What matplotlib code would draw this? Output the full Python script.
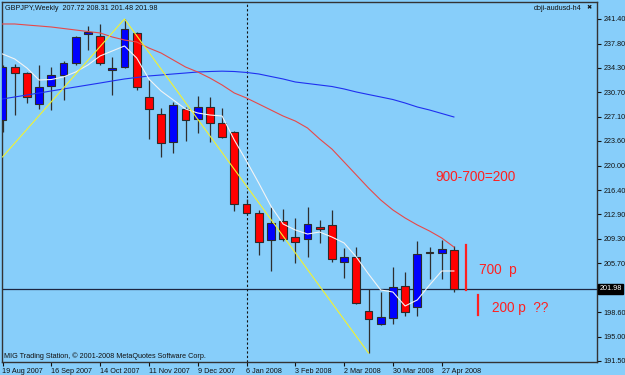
import numpy as np
import matplotlib
matplotlib.use('Agg')
import matplotlib.pyplot as plt

plt.rcParams['font.family'] = ['Liberation Sans', 'DejaVu Sans']

# weekly GBPJPY candles, 19 Aug 2007 .. 4 May 2008
opens = [226.65, 234.39, 233.51, 228.99, 231.62, 233.22, 234.97, 239.21, 238.92, 233.95,
         234.39, 239.36, 230.01, 227.53, 223.44, 228.26, 226.80, 228.55, 226.21, 224.90,
         214.38, 213.07, 209.13, 211.90, 209.56, 209.27, 211.02, 211.32, 205.91, 206.64,
         198.76, 196.86, 197.73, 202.41, 199.34, 207.37, 207.23, 207.72]
highs = [234.68, 234.83, 233.66, 234.68, 234.39, 235.27, 238.92, 240.38, 240.67, 235.85,
         241.40, 239.50, 232.49, 228.40, 229.28, 228.55, 230.16, 230.01, 228.40, 225.04,
         215.11, 213.51, 213.94, 213.65, 212.34, 213.94, 212.05, 213.51, 207.96, 208.10,
         201.97, 201.53, 205.18, 204.45, 208.98, 208.10, 209.13, 208.31]
lows = [224.90, 227.38, 229.13, 228.26, 228.11, 229.57, 234.68, 236.87, 234.68, 230.30,
        234.24, 231.03, 223.88, 221.25, 221.83, 223.58, 224.75, 223.44, 224.02, 213.36,
        212.92, 206.93, 204.60, 208.98, 205.77, 206.64, 208.69, 205.91, 203.58, 199.78,
        192.62, 196.71, 196.86, 198.03, 198.03, 203.43, 203.43, 201.48]
closes = [234.39, 233.51, 230.01, 231.47, 233.22, 234.97, 238.77, 239.50, 234.97, 234.24,
          239.94, 231.47, 228.26, 223.29, 228.84, 226.65, 228.55, 226.21, 224.17, 214.38,
          213.07, 208.83, 211.61, 209.27, 208.83, 211.46, 210.73, 206.35, 206.64, 199.92,
          197.59, 197.88, 202.26, 198.61, 207.08, 207.23, 207.81, 201.98]

# moving averages
ma_red = [240.67, 240.67, 240.52, 240.38, 240.23, 240.01, 239.79, 239.57, 239.36, 238.77,
          238.33, 238.04, 237.16, 236.43, 235.41, 234.39, 233.66, 232.78, 231.76, 230.59,
          229.86, 228.99, 228.11, 227.23, 226.50, 225.48, 223.87, 222.41, 220.52, 218.62,
          216.72, 214.97, 213.51, 212.34, 211.32, 210.44, 209.42, 208.10]
ma_blue = [229.72, 230.01, 230.30, 230.59, 230.89, 231.18, 231.47, 231.76, 232.05, 232.35,
           232.64, 232.86, 233.08, 233.22, 233.37, 233.51, 233.66, 233.73, 233.78, 233.73,
           233.59, 233.37, 233.00, 232.64, 232.20, 231.98, 231.76, 231.54, 231.18, 230.74,
           230.37, 230.01, 229.64, 229.13, 228.55, 228.11, 227.60, 227.09]
ma_white = [236.29, 235.56, 234.24, 232.49, 232.56, 232.93, 233.66, 234.68, 236.00, 236.73,
            237.46, 235.70, 232.63, 230.88, 229.57, 228.26, 227.67, 227.38, 227.23, 223.73,
            220.66, 217.45, 214.09, 211.46, 210.59, 210.00, 210.29, 209.56, 208.69, 206.64,
            204.16, 201.83, 201.53, 199.49, 200.37, 202.55, 204.60, 204.60]
zz_idx = [0, 10, 30]
zz_price = [221.25, 241.40, 192.62]

last_price = 201.98
ytick_vals = [241.40, 237.80, 234.30, 230.70, 227.10, 223.60, 220.00, 216.40, 212.90,
              209.30, 205.70, 198.60, 195.00, 191.50]
xtick_idx = [0, 4, 8, 12, 16, 20, 24, 28, 32, 36]
xtick_labels = ['19 Aug 2007', '16 Sep 2007', '14 Oct 2007', '11 Nov 2007', '9 Dec 2007',
                '6 Jan 2008', '3 Feb 2008', '2 Mar 2008', '30 Mar 2008', '27 Apr 2008']
# hand-drawn marks on the chart
mark1_x, mark1_y = [38.0, 38.0], [208.4, 201.8]
mark2_x, mark2_y = [39.0, 39.0], [201.1, 198.2]

bg = '#87cefa'
fig = plt.figure(figsize=(6.25, 3.75), dpi=100, facecolor=bg)
ax = fig.add_axes([2 / 625, 13 / 375, 595 / 625, 360 / 375], facecolor=bg)

x = np.arange(len(opens))
o = np.array(opens); c = np.array(closes)
up = c >= o
ax.vlines(x, lows, highs, color='#2e2e2e', lw=0.9, zorder=2)
bottoms = np.minimum(o, c)
heights = np.maximum(np.abs(c - o), 0.15)
cols = np.where(up, '#0000ff', '#ff0000')
ax.bar(x, heights, bottom=bottoms, width=0.64, color=cols, edgecolor='#2b2b2b',
       linewidth=0.8, zorder=3)

ax.plot(x, ma_blue, color='#1f30f0', lw=0.8, zorder=4)
ax.plot(x, ma_red, color='#e84848', lw=0.8, zorder=4)
ax.plot(x, ma_white, color='#f4f4f4', lw=0.8, zorder=4)
ax.plot(zz_idx, zz_price, color='#f2f230', lw=0.8, zorder=4)

ax.axhline(last_price, color='#1c2540', lw=0.9, zorder=1)
ax.axvline(20, color='#111111', lw=0.8, ls=(0, (2, 2)), zorder=1)

ax.plot(mark1_x, mark1_y, color='#ff2020', lw=1.6, zorder=5)
ax.plot(mark2_x, mark2_y, color='#ff2020', lw=1.6, zorder=5)
ax.text(38.8, 218.33, '900-700=200', color='#ff2020', fontsize=9.8, ha='center', va='center')
ax.text(39.05, 204.74, '700  p', color='#ff2020', fontsize=9.8, ha='left', va='center')
ax.text(40.1, 199.2, '200 p  ??', color='#ff2020', fontsize=9.8, ha='left', va='center')

ax.set_xlim((2 - 2.5) / 12.2, (597 - 2.5) / 12.2)
ax.set_ylim(191.31, 243.88)

ax.yaxis.tick_right()
ax.set_yticks(ytick_vals)
ax.set_yticklabels(['%.2f' % v for v in ytick_vals])
ax.tick_params(axis='y', length=3, width=0.8, pad=1.5, labelsize=5.2, colors='#111111')
ax.set_xticks(xtick_idx)
ax.set_xticklabels(xtick_labels)
ax.tick_params(axis='x', length=3, width=0.8, pad=1.5, labelsize=5.2, colors='#111111')
for lab in ax.get_xticklabels():
    lab.set_horizontalalignment('left')
for s in ax.spines.values():
    s.set_color('#333333')
    s.set_linewidth(1)

ax.text(1.004, last_price, '201.98', transform=ax.get_yaxis_transform(), fontsize=5.2,
        color='white', va='center', ha='left',
        bbox=dict(boxstyle='square,pad=0.15', fc='black', ec='black'))

fig.text(5 / 625, 1 - 8 / 375, 'GBPJPY,Weekly  207.72 208.31 201.48 201.98', fontsize=5.2,
         color='#111111', va='center', ha='left')
fig.text(582 / 625, 1 - 8 / 375, 'doji-audusd-h4', fontsize=5.2, color='#111111',
         va='center', ha='right')
fig.text(589 / 625, 1 - 8 / 375, '\u2716', fontsize=4.5, color='#111111', va='center',
         ha='center', family='DejaVu Sans')
fig.text(4 / 625, 1 - 356 / 375, 'MIG Trading Station, \u00a9 2001-2008 MetaQuotes Software Corp.',
         fontsize=5.2, color='#111111', va='center', ha='left')

fig.savefig('out.png', dpi=100, facecolor=bg)
